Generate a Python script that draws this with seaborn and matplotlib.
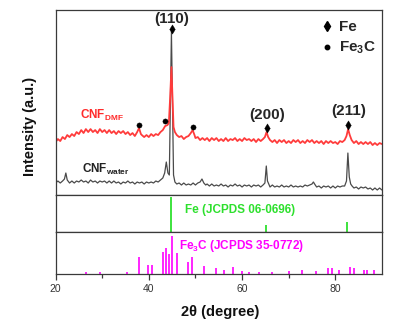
import numpy as np
import pandas as pd
import matplotlib
matplotlib.use("Agg")
import matplotlib.pyplot as plt
import seaborn as sns
from matplotlib.lines import Line2D

sns.set_style("ticks")
plt.rcParams['font.family'] = ['Liberation Sans', 'DejaVu Sans']
plt.rcParams['mathtext.fontset'] = 'custom'
plt.rcParams['mathtext.rm'] = 'Liberation Sans'
plt.rcParams['mathtext.bf'] = 'Liberation Sans:bold'
plt.rcParams['mathtext.it'] = 'Liberation Sans:italic'

# ---------------- data ----------------
dmf_x = [20.0, 20.5, 21.0, 21.5, 22.0, 22.5, 23.0, 23.5, 24.0, 24.5, 25.0, 25.5, 26.0, 26.5,
         27.0, 27.5, 28.0, 28.5, 29.0, 29.5, 30.0, 30.5, 31.0, 31.5, 32.0, 32.5, 33.0, 33.5,
         34.0, 34.5, 35.0, 35.5, 36.0, 36.5, 37.0, 37.5, 37.9, 38.3, 38.5, 39.0, 39.5, 40.0,
         40.5, 41.0, 41.5, 42.0, 42.5, 43.0, 43.5, 44.0, 44.3, 44.6, 44.85, 45.1, 45.3, 45.6,
         46.0, 46.5, 47.0, 47.5, 48.0, 48.5, 49.0, 49.4, 49.8, 50.0, 50.5, 51.0, 51.5, 52.0,
         52.5, 53.0, 53.5, 54.0, 54.5, 55.0, 55.5, 56.0, 56.5, 57.0, 57.5, 58.0, 58.5, 59.0,
         59.5, 60.0, 60.5, 61.0, 61.5, 62.0, 62.5, 63.0, 63.5, 64.0, 64.5, 64.9, 65.25, 65.6,
         66.0, 66.5, 67.0, 67.5, 68.0, 68.5, 69.0, 69.5, 70.0, 70.5, 71.0, 71.5, 72.0, 72.5,
         73.0, 73.5, 74.0, 74.5, 75.0, 75.5, 76.0, 76.5, 77.0, 77.5, 78.0, 78.5, 79.0, 79.5,
         80.0, 80.5, 81.0, 81.5, 82.0, 82.4, 82.75, 83.1, 83.5, 84.0, 84.5, 85.0, 85.5, 86.0,
         86.5, 87.0, 87.5, 88.0, 88.5, 89.0, 89.5, 90.0]
dmf_y = [53, 56, 54, 58, 56, 60, 58, 61, 59, 63, 61, 65, 62, 66,
         63, 66, 63, 65, 62, 66, 63, 65, 62, 65, 62, 64, 61, 64,
         62, 64, 61, 63, 60, 62, 59, 63, 67, 61, 60, 58, 60, 58,
         61, 59, 61, 60, 63, 65, 69, 70, 72, 100, 128, 95, 68, 63,
         60, 58, 59, 56, 58, 59, 62, 65, 60, 57, 58, 55, 57, 55,
         57, 54, 57, 55, 57, 54, 56, 54, 57, 54, 56, 55, 57, 54,
         56, 54, 57, 55, 56, 54, 56, 53, 56, 54, 56, 58, 63, 58,
         55, 53, 55, 52, 55, 53, 55, 52, 54, 52, 55, 53, 55, 52,
         54, 52, 55, 53, 55, 52, 54, 52, 54, 51, 54, 52, 54, 52,
         53, 51, 54, 53, 55, 59, 66, 60, 55, 52, 54, 51, 53, 51,
         53, 51, 53, 50, 52, 50, 52, 51]

water_x = [20.0, 20.5, 21.0, 21.5, 21.9, 22.2, 22.5, 23.0, 23.5, 24.0, 24.5, 25.0, 25.5, 26.0,
           26.5, 27.0, 27.5, 28.0, 28.5, 29.0, 29.5, 30.0, 30.5, 31.0, 31.5, 32.0, 32.5, 33.0,
           33.5, 34.0, 34.5, 35.0, 35.5, 36.0, 36.5, 37.0, 37.5, 38.0, 38.5, 39.0, 39.5, 40.0,
           40.5, 41.0, 41.5, 42.0, 42.5, 43.0, 43.4, 43.75, 44.1, 44.4, 44.65, 44.85, 45.05, 45.3,
           45.6, 46.0, 46.5, 47.0, 47.5, 48.0, 48.5, 49.0, 49.5, 50.0, 50.5, 51.0, 51.4, 51.8,
           52.2, 52.5, 53.0, 53.5, 54.0, 54.5, 55.0, 55.5, 56.0, 56.5, 57.0, 57.5, 58.0, 58.5,
           59.0, 59.5, 60.0, 60.5, 61.0, 61.5, 62.0, 62.5, 63.0, 63.5, 64.0, 64.5, 64.9, 65.2,
           65.45, 65.8, 66.0, 66.5, 67.0, 67.5, 68.0, 68.5, 69.0, 69.5, 70.0, 70.5, 71.0, 71.5,
           72.0, 72.5, 73.0, 73.5, 74.0, 74.5, 75.0, 75.3, 75.7, 76.0, 76.5, 77.0, 77.5, 78.0,
           78.5, 79.0, 79.5, 80.0, 80.5, 81.0, 81.5, 82.0, 82.4, 82.7, 83.0, 83.3, 83.6, 84.0,
           84.5, 85.0, 85.5, 86.0, 86.5, 87.0, 87.5, 88.0, 88.5, 89.0, 89.5, 90.0]
water_y = [12, 14, 12, 14, 16, 22, 15, 12, 14, 12, 14, 13, 15, 13,
           14, 12, 15, 13, 14, 12, 14, 13, 14, 12, 14, 12, 14, 12,
           13, 11, 13, 12, 14, 12, 13, 11, 13, 12, 13, 11, 13, 12,
           13, 12, 14, 13, 15, 17, 22, 33, 22, 20, 100, 163, 100, 20,
           13, 11, 12, 10, 12, 10, 11, 10, 12, 10, 12, 13, 16, 12,
           10, 11, 9, 11, 9, 10, 9, 11, 9, 10, 8, 10, 9, 11,
           9, 10, 8, 10, 9, 10, 8, 10, 9, 10, 8, 10, 12, 29,
           14, 10, 8, 10, 8, 9, 8, 10, 8, 9, 8, 10, 8, 9,
           8, 9, 8, 10, 9, 10, 11, 13, 10, 8, 9, 7, 9, 8,
           9, 7, 9, 7, 9, 8, 9, 9, 14, 42, 18, 11, 9, 7,
           8, 6, 8, 7, 8, 6, 7, 5, 7, 5, 7, 5]

fe_pos = [44.7, 65.2, 82.5]
fe_int = [95, 19, 27]

fe3c_pos = [26.5, 29.6, 35.3, 37.8, 39.8, 40.6, 43.0, 43.7, 44.4, 45.0, 46.0, 48.5, 49.2,
            51.9, 54.4, 56.2, 58.0, 60.0, 61.5, 63.7, 66.4, 70.1, 72.8, 75.9, 78.5, 79.3,
            80.7, 83.2, 84.1, 86.1, 86.8, 88.2]
fe3c_int = [5, 5, 5, 45, 24, 24, 58, 68, 53, 100, 55, 32, 45,
            21, 16, 11, 18, 8, 5, 5, 5, 8, 11, 8, 16, 16,
            11, 18, 16, 11, 11, 11]

fe_mark_x = [44.9, 65.3, 82.8]
fe_mark_y = [166, 67, 70]
fe3c_mark_x = [37.9, 43.5, 49.4]
fe3c_mark_y = [70, 74, 68]
hkl_labels = ['(110)', '(200)', '(211)']
hkl_y = [176, 80, 84]
x_ticks = [20, 40, 60, 80]

# ---------------- figure ----------------
fig = plt.figure(figsize=(3.97, 3.28), dpi=100)
L, R = 0.14, 0.962
ax1 = fig.add_axes([L, 0.4055, R - L, 0.969 - 0.4055])
ax2 = fig.add_axes([L, 0.2927, R - L, 0.4055 - 0.2927])
ax3 = fig.add_axes([L, 0.1646, R - L, 0.2927 - 0.1646])

frame_col = '#3a3a3a'
for ax in (ax1, ax2, ax3):
    ax.set_xlim(20, 90)
    for s in ax.spines.values():
        s.set_color(frame_col)
        s.set_linewidth(0.9)
    ax.set_yticks([])
    ax.set_xlabel('')
    ax.set_ylabel('')

water_df = pd.DataFrame({'x': water_x, 'y': water_y})
dmf_df = pd.DataFrame({'x': dmf_x, 'y': dmf_y})
sns.lineplot(data=water_df, x='x', y='y', ax=ax1, color='#4a4a4a', lw=0.9,
             estimator=None, sort=False)
sns.lineplot(data=dmf_df, x='x', y='y', ax=ax1, color='#ff3b3b', lw=1.3,
             estimator=None, sort=False)
sns.scatterplot(x=fe_mark_x, y=fe_mark_y, ax=ax1, marker='d', s=22, color='black',
                edgecolor='black', linewidth=0.3, zorder=5)
sns.scatterplot(x=fe3c_mark_x, y=fe3c_mark_y, ax=ax1, marker='o', s=14, color='black',
                edgecolor='black', linewidth=0.3, zorder=5)
for xx, yy, lab in zip(fe_mark_x, hkl_y, hkl_labels):
    ax1.text(xx, yy, lab, ha='center', va='center', fontsize=11, fontweight='bold')
ax1.text(25.3, 80, r'$\mathbf{CNF_{DMF}}$', color='#ff2a2a', fontsize=8.5,
         ha='left', va='center')
ax1.text(25.7, 26, r'$\mathbf{CNF_{water}}$', color='#222222', fontsize=8.5,
         ha='left', va='center')
ax1.set_ylim(0, 185)
ax1.set_xlabel('')
ax1.set_ylabel('')
ax1.tick_params(axis='both', which='both', length=0, labelbottom=False, labelleft=False)

handles = [Line2D([], [], marker='d', ls='', color='black', ms=5),
           Line2D([], [], marker='o', ls='', color='black', ms=3.2)]
ax1.legend(handles, ['Fe', r'$\mathbf{Fe_3C}$'], loc='upper left',
           bbox_to_anchor=(0.785, 1.005), frameon=False,
           handlelength=0.6, handletextpad=0.5, labelspacing=0.4,
           borderpad=0.2, prop={'weight': 'bold', 'size': 11})

ax2.vlines(fe_pos, 0, fe_int, color='#2ee02e', lw=1.3)
ax2.set_ylim(0, 100)
ax2.text(47.8, 59, 'Fe (JCPDS 06-0696)', color='#2ee02e', fontsize=8.5,
         fontweight='bold', ha='left', va='center')
ax2.tick_params(axis='both', which='both', length=0, labelbottom=False, labelleft=False)

ax3.vlines(fe3c_pos, 0, fe3c_int, color='#ff00ff', lw=1.2)
ax3.set_ylim(0, 110.5)
ax3.text(46.4, 74, r'$\mathbf{Fe_3C}$' + ' (JCPDS 35-0772)', color='#ff00ff',
         fontsize=8.5, fontweight='bold', ha='left', va='center')
ax3.set_xticks(x_ticks)
ax3.set_xticks([30, 50, 70], minor=True)
ax3.set_xticklabels([str(t) for t in x_ticks])
ax3.tick_params(axis='x', which='major', direction='out', length=4, width=0.9,
                color=frame_col, labelsize=7.5, labelcolor='#333333', pad=3)
ax3.tick_params(axis='x', which='minor', direction='out', length=3, width=0.9,
                color=frame_col)
ax3.tick_params(axis='y', length=0, labelleft=False)

fig.text(0.075, 0.615, 'Intensity (a.u.)', rotation=90, ha='center', va='center',
         fontsize=10.5, fontweight='bold', color='#111111')
fig.text(0.554, 0.05, '2θ (degree)', ha='center', va='center',
         fontsize=10.5, fontweight='bold', color='#111111')

fig.savefig('out.png', dpi=100)
